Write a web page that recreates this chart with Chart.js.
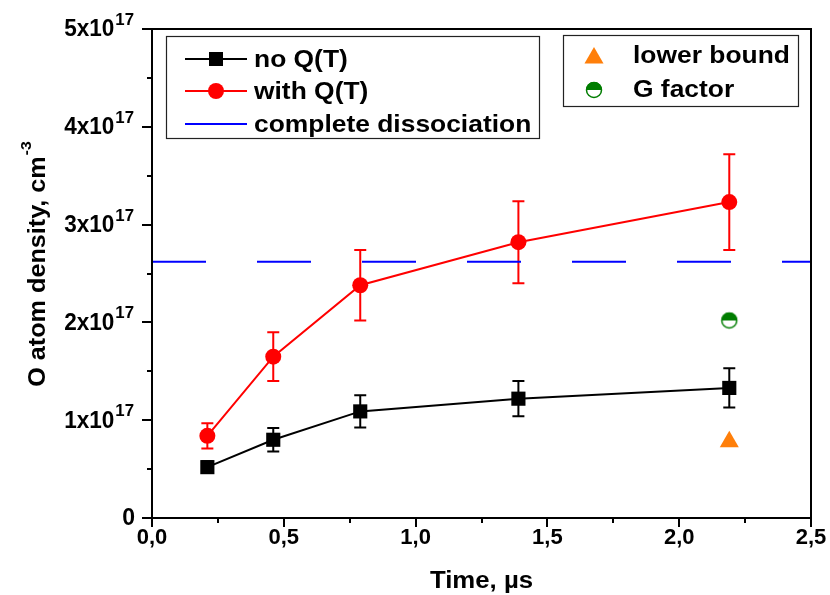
<!DOCTYPE html>
<html>
<head>
<meta charset="utf-8">
<script src="https://cdn.jsdelivr.net/npm/chart.js@4.4.1/dist/chart.umd.min.js"></script>
<style>
  html, body { margin: 0; background: #fff; }
</style>
</head>
<body>
<canvas id="chart" width="830" height="595"></canvas>
<script>
// data (density in cm^-3, time in µs)
const timeUs       = [0.21, 0.46, 0.79, 1.39, 2.19];
const noQ          = [0.52e17, 0.80e17, 1.09e17, 1.22e17, 1.33e17];
const noQErr       = [0.06e17, 0.12e17, 0.165e17, 0.18e17, 0.20e17];
const withQ        = [0.84e17, 1.65e17, 2.38e17, 2.82e17, 3.23e17];
const withQErr     = [0.13e17, 0.25e17, 0.36e17, 0.42e17, 0.49e17];
const completeDiss = 2.62e17;
const lowerBoundT  = [2.19];
const lowerBound   = [0.78e17];
const gFactorT     = [2.19];
const gFactor      = [2.02e17];

const xTicks = [0, 0.5, 1.0, 1.5, 2.0, 2.5];
const yTicks = [0, 1e17, 2e17, 3e17, 4e17, 5e17];

const FONT = '"Liberation Sans", Arial, Helvetica, sans-serif';
const GREEN = '#007d00';
const ORANGE = '#ff7f0a';

const pts = (xs, ys) => xs.map((x, i) => ({ x, y: ys[i] }));

// half filled circle marker
function halfCircle(r) {
  const c = document.createElement('canvas');
  const s = r * 2 + 4;
  c.width = c.height = s;
  const g = c.getContext('2d');
  g.beginPath(); g.arc(s / 2, s / 2, r, 0, 2 * Math.PI);
  g.fillStyle = '#fff'; g.fill();
  g.beginPath(); g.arc(s / 2, s / 2, r, Math.PI, 2 * Math.PI); g.closePath();
  g.fillStyle = GREEN; g.fill();
  g.beginPath(); g.arc(s / 2, s / 2, r - 0.5, 0, 2 * Math.PI);
  g.strokeStyle = GREEN; g.lineWidth = 1.5; g.stroke();
  return c;
}
const gMarker = halfCircle(8);

// text slightly stretched sideways, like the original
function txt(ctx, s, x, y, align, sx) {
  ctx.save();
  ctx.translate(x, y);
  ctx.scale(sx, 1);
  ctx.textAlign = align;
  ctx.fillText(s, 0, 0);
  ctx.restore();
}

const errorBars = {
  id: 'errorBars',
  beforeDatasetsDraw(chart) {
    const { ctx, scales: { x, y } } = chart;
    ctx.save();
    ctx.lineWidth = 2;
    [[noQ, noQErr, '#000'], [withQ, withQErr, '#ff0000']].forEach(([vals, errs, col]) => {
      ctx.strokeStyle = col;
      vals.forEach((v, i) => {
        const px = x.getPixelForValue(timeUs[i]);
        const top = y.getPixelForValue(v + errs[i]);
        const bot = y.getPixelForValue(v - errs[i]);
        ctx.beginPath();
        ctx.moveTo(px, top); ctx.lineTo(px, bot);
        ctx.moveTo(px - 6, top); ctx.lineTo(px + 6, top);
        ctx.moveTo(px - 6, bot); ctx.lineTo(px + 6, bot);
        ctx.stroke();
      });
    });
    ctx.restore();
  }
};

function drawTriangle(ctx, cx, cy, r) {
  ctx.beginPath();
  for (let k = 0; k < 3; k++) {
    const a = k * 2 * Math.PI / 3;
    const px = cx + Math.sin(a) * r, py = cy - Math.cos(a) * r;
    k ? ctx.lineTo(px, py) : ctx.moveTo(px, py);
  }
  ctx.closePath();
  ctx.fillStyle = ORANGE;
  ctx.fill();
}

const frame = {
  id: 'frame',
  afterDraw(chart) {
    const { ctx, chartArea: a, scales: { x, y } } = chart;
    ctx.save();
    ctx.strokeStyle = '#000';
    ctx.lineWidth = 2;
    ctx.strokeRect(a.left, a.top, a.right - a.left, a.bottom - a.top);

    // ticks
    ctx.beginPath();
    for (let v = 0; v <= 2.5001; v += 0.25) {
      const px = Math.round(x.getPixelForValue(v));
      const major = Math.abs(v * 2 - Math.round(v * 2)) < 1e-6;
      ctx.moveTo(px, a.bottom); ctx.lineTo(px, a.bottom + (major ? 9 : 5));
    }
    for (let v = 0; v <= 5.0001e17; v += 0.5e17) {
      const py = Math.round(y.getPixelForValue(v));
      const major = Math.abs(v / 1e17 - Math.round(v / 1e17)) < 1e-6;
      ctx.moveTo(a.left, py); ctx.lineTo(a.left - (major ? 10 : 5), py);
    }
    ctx.stroke();

    // tick labels
    ctx.fillStyle = '#000';
    ctx.textBaseline = 'middle';
    ctx.font = 'bold 22px ' + FONT;
    xTicks.forEach(v => {
      txt(ctx, v.toFixed(1).replace('.', ','), x.getPixelForValue(v), a.bottom + 20, 'center', 1);
    });
    const right = 134;
    yTicks.forEach(v => {
      const py = y.getPixelForValue(v) + 1;
      const n = Math.round(v / 1e17);
      if (n === 0) {
        ctx.font = 'bold 23px ' + FONT;
        txt(ctx, '0', right + 1, py, 'right', 1);
        return;
      }
      ctx.font = 'bold 16px ' + FONT;
      const supW = ctx.measureText('17').width * 1.05;
      txt(ctx, '17', right, py - 9.5, 'right', 1.05);
      ctx.font = 'bold 23px ' + FONT;
      txt(ctx, n + 'x10', right - supW - 1, py, 'right', 0.98);
    });

    // axis titles
    ctx.font = 'bold 23px ' + FONT;
    txt(ctx, 'Time, µs', (a.left + a.right) / 2, 582, 'center', 1.12);

    ctx.save();
    ctx.translate(38, 264);
    ctx.rotate(-Math.PI / 2);
    ctx.scale(1.05, 1);
    const main = 'O atom density, cm';
    ctx.font = 'bold 24px ' + FONT;
    const mw = ctx.measureText(main).width;
    ctx.font = 'bold 15px ' + FONT;
    const sw = ctx.measureText('-3').width;
    const start = -(mw + sw + 1) / 2;
    ctx.textAlign = 'left';
    ctx.font = 'bold 24px ' + FONT;
    ctx.fillText(main, start, 0);
    ctx.font = 'bold 15px ' + FONT;
    ctx.fillText('-3', start + mw + 1, -11);
    ctx.restore();

    // legend 1
    ctx.lineWidth = 1.2;
    ctx.strokeStyle = '#222';
    ctx.strokeRect(166.5, 36.5, 373, 102);
    ctx.font = 'bold 24px ' + FONT;
    const rows = [
      ['no Q(T)', '#000', 'rect', 59],
      ['with Q(T)', '#ff0000', 'circle', 91],
      ['complete dissociation', '#0000ff', null, 124]
    ];
    rows.forEach(([label, col, mk, ry]) => {
      ctx.strokeStyle = col; ctx.fillStyle = col; ctx.lineWidth = 2;
      ctx.beginPath(); ctx.moveTo(185, ry); ctx.lineTo(247, ry); ctx.stroke();
      if (mk === 'rect') ctx.fillRect(209, ry - 7, 14, 14);
      if (mk === 'circle') { ctx.beginPath(); ctx.arc(216, ry, 8, 0, 2 * Math.PI); ctx.fill(); }
      ctx.fillStyle = '#000';
      txt(ctx, label, 254, ry + 1, 'left', 1.1);
    });

    // legend 2
    ctx.lineWidth = 1.2;
    ctx.strokeStyle = '#222';
    ctx.strokeRect(563.5, 35.5, 235, 71);
    drawTriangle(ctx, 594, 58, 11);
    ctx.drawImage(gMarker, 594 - gMarker.width / 2, 90 - gMarker.height / 2);
    ctx.fillStyle = '#000';
    txt(ctx, 'lower bound', 633, 56, 'left', 1.1);
    txt(ctx, 'G factor', 633, 90, 'left', 1.1);
    ctx.restore();
  }
};

new Chart(document.getElementById('chart'), {
  type: 'line',
  data: {
    datasets: [
      { label: 'no Q(T)', data: pts(timeUs, noQ), borderColor: '#000', backgroundColor: '#000',
        borderWidth: 2, pointStyle: 'rect', pointRadius: 10, pointBorderWidth: 0, tension: 0 },
      { label: 'with Q(T)', data: pts(timeUs, withQ), borderColor: '#ff0000', backgroundColor: '#ff0000',
        borderWidth: 2, pointStyle: 'circle', pointRadius: 8, pointBorderWidth: 0, tension: 0 },
      { label: 'complete dissociation', data: [{ x: 0, y: completeDiss }, { x: 2.5, y: completeDiss }],
        borderColor: '#0000ff', borderWidth: 2, borderDash: [54, 51], pointRadius: 0 },
      { label: 'lower bound', data: pts(lowerBoundT, lowerBound), showLine: false,
        pointStyle: 'triangle', pointRadius: 11, backgroundColor: ORANGE, borderColor: ORANGE, pointBorderWidth: 0 },
      { label: 'G factor', data: pts(gFactorT, gFactor), showLine: false,
        pointStyle: gMarker, pointRadius: 8 }
    ]
  },
  options: {
    responsive: false,
    animation: false,
    devicePixelRatio: 1,
    layout: { padding: { left: 152, right: 19, top: 29, bottom: 77 } },
    scales: {
      x: { type: 'linear', min: 0, max: 2.5, display: false },
      y: { type: 'linear', min: 0, max: 5e17, display: false }
    },
    plugins: { legend: { display: false }, tooltip: { enabled: false } }
  },
  plugins: [errorBars, frame]
});
</script>
</body>
</html>
